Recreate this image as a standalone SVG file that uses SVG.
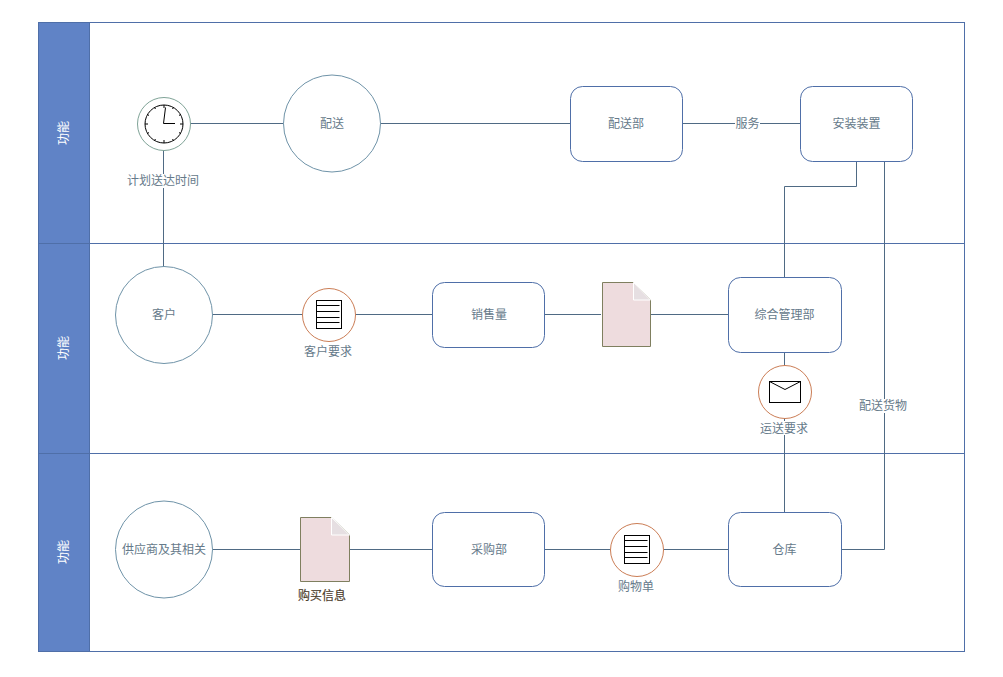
<svg xmlns="http://www.w3.org/2000/svg" width="1003" height="677" viewBox="0 0 1003 677">
<style>
text{font-family:"Liberation Sans","Noto Sans CJK SC",sans-serif;font-size:12px;fill:#667a8a;text-anchor:middle;dominant-baseline:central}
.lane{fill:#fff;stroke:#4f6fa8;stroke-width:1}
.head{fill:#6083c6;stroke:#4f6fa8;stroke-width:1}
text.ht{fill:#fff}
.c{fill:none;stroke:#4f6a84;stroke-width:1}
.box{fill:#fff;stroke:#4f6fa8;stroke-width:1}
.circ{fill:#fff;stroke:#6f93a8;stroke-width:1}
.ev{fill:#fff;stroke:#cb7d55;stroke-width:1}
.doc{fill:#eedcde;stroke:#7f7f5f;stroke-width:1}
.fold{fill:#e6dfe2;stroke:#fff;stroke-width:1}
.ico{fill:#fff;stroke:#000;stroke-width:1}
.il{fill:none;stroke:#000;stroke-width:1}
.lb{fill:#fff;stroke:none}
</style>
<g id="lanes">
<rect class="lane" x="38.500" y="22.500" width="926" height="221"/>
<rect class="lane" x="38.500" y="243.500" width="926" height="210"/>
<rect class="lane" x="38.500" y="453.500" width="926" height="198"/>
<rect class="head" x="38.500" y="22.500" width="51" height="629"/>
<line x1="38.500" y1="243.500" x2="89.500" y2="243.500" stroke="#4f6fa8"/>
<line x1="38.500" y1="453.500" x2="89.500" y2="453.500" stroke="#4f6fa8"/>
<text class="ht" transform="translate(64 133) rotate(-90)">功能</text>
<text class="ht" transform="translate(64 348) rotate(-90)">功能</text>
<text class="ht" transform="translate(64 552) rotate(-90)">功能</text>
</g>
<g id="connectors">
<path class="c" d="M163.500 150V267"/>
<path class="c" d="M190 123.500H284"/>
<path class="c" d="M380 123.500H571"/>
<path class="c" d="M682 123.500H801"/>
<path class="c" d="M856.500 161V186.500H784.500V278"/>
<path class="c" d="M884.500 161V549.500H841"/>
<path class="c" d="M212 314.500H303"/>
<path class="c" d="M355 314.500H433"/>
<path class="c" d="M544 314.500H601"/>
<path class="c" d="M650 314.500H729"/>
<path class="c" d="M784.500 352V513"/>
<path class="c" d="M212 549.500H301"/>
<path class="c" d="M349 549.500H433"/>
<path class="c" d="M544 549.500H611"/>
<path class="c" d="M663 549.500H729"/>
</g>
<g id="n-clock">
<circle cx="164" cy="124" r="26.500" fill="#fff" stroke="#7fa397"/>
<circle cx="164" cy="124" r="19" class="ico"/>
<path class="il" d="M163.500 123.500L165.500 107.500M163.500 123.500H175M164 105V108M164 140V143M145 124H148M180 124H183M173.500 107.500L172.500 109M154.500 107.500L155.500 109M173.500 140.500L172.500 139M154.500 140.500L155.500 139M147.500 114.500L149 115.500M180.500 114.500L179 115.500M147.500 133.500L149 132.500M180.500 133.500L179 132.500" stroke-width="0.900"/>
<rect class="lb" x="126" y="174" width="74" height="14"/>
<text x="163" y="181">计划送达时间</text>
</g>
<g id="n-peisong"><circle class="circ" cx="332" cy="123.500" r="48.500"/><text x="332" y="124">配送</text></g>
<g id="n-peisongbu"><rect class="box" x="570.500" y="86.500" width="112" height="75" rx="12"/><text x="626" y="124">配送部</text></g>
<g id="n-fuwu"><rect class="lb" x="735" y="115" width="25" height="16"/><text x="747.500" y="124">服务</text></g>
<g id="n-anzhuang"><rect class="box" x="800.500" y="86.500" width="112" height="75" rx="12"/><text x="856.500" y="124">安装装置</text></g>
<g id="n-kehu"><circle class="circ" cx="164" cy="315" r="48.500"/><text x="164" y="315">客户</text></g>
<g id="n-kehuyaoqiu">
<circle class="ev" cx="329" cy="315" r="26.500"/>
<rect class="ico" x="316.500" y="300.500" width="25" height="28"/>
<path class="il" d="M316.500 305.500H339.500M316.500 311.500H339.500M316.500 317.500H339.500M316.500 322.500H339.500"/>
<text x="328" y="352">客户要求</text>
</g>
<g id="n-xiaoshou"><rect class="box" x="432.500" y="282.500" width="112" height="65" rx="12"/><text x="489" y="315">销售量</text></g>
<g id="n-doc1">
<path class="doc" d="M602.500 282.500H633.500L650.500 300V346.500H602.500Z"/>
<path class="fold" d="M633.500 282.500V300H650.500Z"/>
</g>
<g id="n-zonghe"><rect class="box" x="728.500" y="277.500" width="113" height="75" rx="12"/><text x="784.500" y="315">综合管理部</text></g>
<g id="n-yunsong">
<circle class="ev" cx="785" cy="392" r="26.500"/>
<rect class="ico" x="769.500" y="381.500" width="31" height="21"/>
<path class="il" d="M769.500 381.500L785 389.500L800.500 381.500"/>
<rect class="lb" x="760" y="421" width="48" height="14"/>
<text x="784" y="429">运送要求</text>
</g>
<g id="n-peisonghuowu"><rect class="lb" x="859" y="399" width="48" height="14"/><text x="883" y="406">配送货物</text></g>
<g id="n-gongying"><circle class="circ" cx="164" cy="549.500" r="48.500"/><text x="164" y="550">供应商及其相关</text></g>
<g id="n-doc2">
<path class="doc" d="M300.500 517.500H331.500L349.500 535V581.500H300.500Z"/>
<path class="fold" d="M331.500 517.500V535H349.500Z"/>
<text x="322" y="596" style="fill:#4a3a28;stroke:#4a3a28;stroke-width:.15">购买信息</text>
</g>
<g id="n-caigou"><rect class="box" x="432.500" y="512.500" width="112" height="74" rx="12"/><text x="489" y="550">采购部</text></g>
<g id="n-gouwu">
<circle class="ev" cx="637" cy="550" r="26.500"/>
<rect class="ico" x="624.500" y="535.500" width="25" height="28"/>
<path class="il" d="M624.500 540.500H647.500M624.500 546.500H647.500M624.500 552.500H647.500M624.500 557.500H647.500"/>
<text x="636" y="587">购物单</text>
</g>
<g id="n-cangku"><rect class="box" x="728.500" y="512.500" width="113" height="74" rx="12"/><text x="784.500" y="550">仓库</text></g>
</svg>
